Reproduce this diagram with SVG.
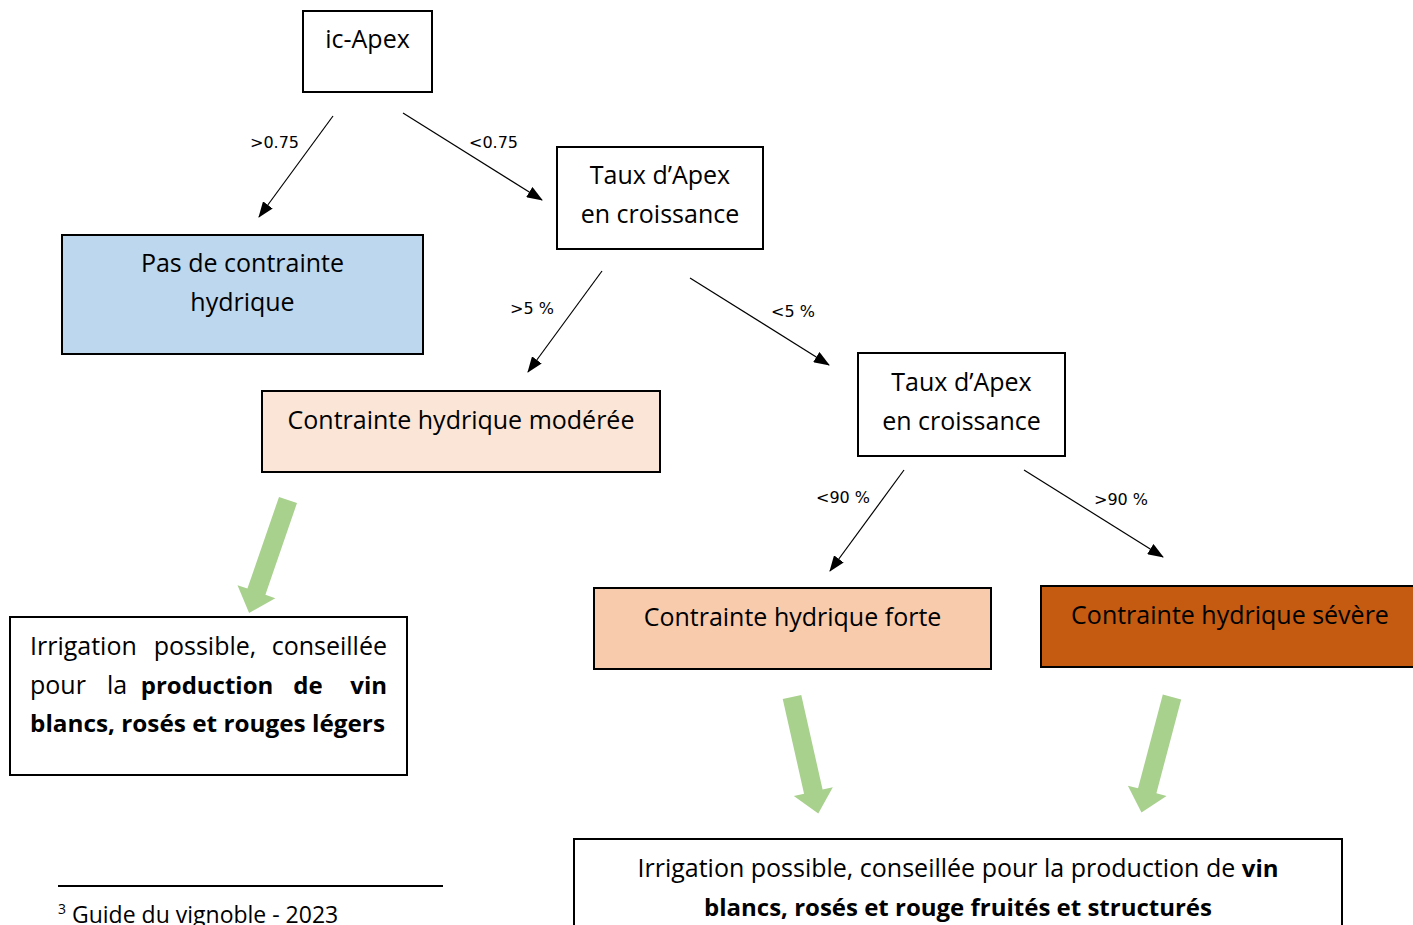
<svg xmlns="http://www.w3.org/2000/svg" width="1413" height="925" viewBox="0 0 1413 925">
<defs>
<marker id="ah" viewBox="0 0 16 12" refX="15" refY="6" markerWidth="16" markerHeight="12" markerUnits="userSpaceOnUse" orient="auto">
<path d="M0,0 L16,6 L0,12 Z" fill="#000"/>
</marker>
<path id="garrow" d="M-9.5,0 L9.5,0 L9.5,97 L20,97 L0,119.5 L-20,97 L-9.5,97 Z"/>
</defs>
<style>
.box{stroke:#000;stroke-width:2}
.t{font-family:"Open Sans",Lato,"Liberation Sans",sans-serif;font-size:25px;fill:#000}
.c{text-anchor:middle}
.b{font-weight:bold;font-size:24px}
.lbl{font-family:"DejaVu Sans",sans-serif;font-size:16px;fill:#000}
.conn line{stroke:#000;stroke-width:1.2;marker-end:url(#ah)}
.green{fill:#A9D18E}
</style>
<rect width="1413" height="925" fill="#fff"/>

<g id="n-icapex">
<rect class="box" x="303" y="11" width="129" height="81" fill="#fff"/>
<text class="t c" x="367.5" y="48">ic-Apex</text>
</g>
<g id="n-taux1">
<rect class="box" x="557" y="147" width="206" height="102" fill="#fff"/>
<text class="t c" x="660" y="184">Taux d’Apex</text>
<text class="t c" x="660" y="223">en croissance</text>
</g>
<g id="n-pas">
<rect class="box" x="62" y="235" width="361" height="119" fill="#BDD7EE"/>
<text class="t c" x="242.5" y="272">Pas de contrainte</text>
<text class="t c" x="242.5" y="311">hydrique</text>
</g>
<g id="n-moderee">
<rect class="box" x="262" y="391" width="398" height="81" fill="#FBE5D6"/>
<text class="t c" x="461" y="429">Contrainte hydrique modérée</text>
</g>
<g id="n-taux2">
<rect class="box" x="858" y="353" width="207" height="103" fill="#fff"/>
<text class="t c" x="961.5" y="391">Taux d’Apex</text>
<text class="t c" x="961.5" y="430">en croissance</text>
</g>
<g id="n-forte">
<rect class="box" x="594" y="588" width="397" height="81" fill="#F8CBAD"/>
<text class="t c" x="792.5" y="626">Contrainte hydrique forte</text>
</g>
<g id="n-severe">
<rect class="box" x="1041" y="586" width="380" height="81" fill="#C55A11"/>
<text class="t c" x="1230" y="624">Contrainte hydrique sévère</text>
</g>
<g id="n-irrig1">
<rect class="box" x="10" y="617" width="397" height="158" fill="#fff"/>
<text class="t" y="655"><tspan x="30">Irrigation</tspan><tspan x="205" text-anchor="middle">possible,</tspan><tspan x="387" text-anchor="end">conseillée</tspan></text>
<text class="t" y="694"><tspan x="30">pour</tspan><tspan x="117" text-anchor="middle">la</tspan><tspan class="b" x="207" text-anchor="middle">production</tspan><tspan class="b" x="308" text-anchor="middle">de</tspan><tspan class="b" x="387" text-anchor="end">vin</tspan></text>
<text class="t b" x="30" y="732" textLength="355" lengthAdjust="spacingAndGlyphs">blancs, rosés et rouges légers</text>
</g>
<g id="n-irrig2">
<rect class="box" x="574" y="839" width="768" height="100" fill="#fff"/>
<text class="t c" x="958" y="877">Irrigation possible, conseillée pour la production de <tspan class="b">vin</tspan></text>
<text class="t c b" x="958" y="916">blancs, rosés et rouge fruités et structurés</text>
</g>

<g id="connectors" class="conn">
<line x1="333" y1="116" x2="259" y2="217"/>
<line x1="403" y1="113" x2="542" y2="200"/>
<line x1="602" y1="271" x2="528" y2="372"/>
<line x1="690" y1="278" x2="829" y2="365"/>
<line x1="904" y1="470" x2="830" y2="571"/>
<line x1="1024" y1="470" x2="1163" y2="557"/>
</g>
<g id="edge-labels">
<text class="lbl" x="250" y="148">&gt;0.75</text>
<text class="lbl" x="469" y="148">&lt;0.75</text>
<text class="lbl" x="510" y="314">&gt;5 %</text>
<text class="lbl" x="771" y="317">&lt;5 %</text>
<text class="lbl" x="816" y="503">&lt;90 %</text>
<text class="lbl" x="1094" y="505">&gt;90 %</text>
</g>
<g id="green-arrows" class="green">
<use href="#garrow" transform="translate(288,500) rotate(19)"/>
<use href="#garrow" transform="translate(792,697) rotate(-12.7)"/>
<use href="#garrow" transform="translate(1172,697) rotate(14.8)"/>
</g>

<g id="footnote">
<line x1="58" y1="886" x2="443" y2="886" stroke="#000" stroke-width="2"/>
<text class="t" x="58" y="923" style="font-size:23px"><tspan font-size="14" dy="-9">3</tspan><tspan dy="9"> Guide du vignoble - 2023</tspan></text>
</g>
</svg>
